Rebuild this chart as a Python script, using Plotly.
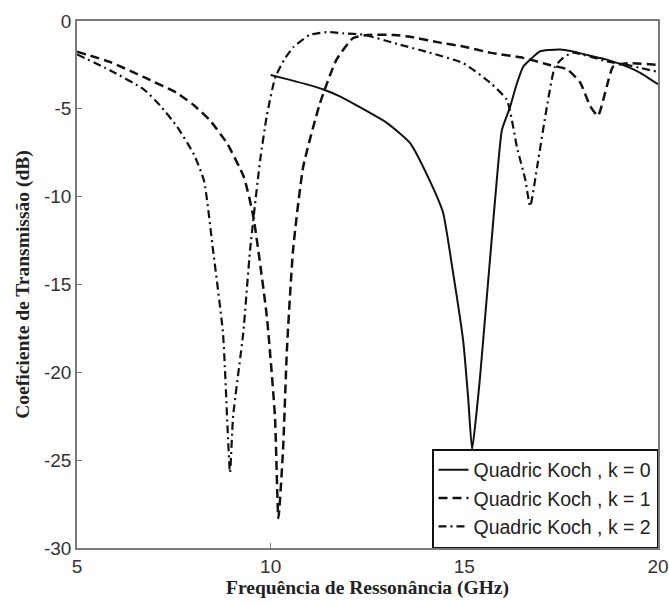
import plotly.graph_objects as go

# Frequency (GHz) and transmission coefficient (dB) for each fractal iteration
freq_k0 = [10.0, 10.5, 11.0, 11.36, 11.8, 12.3, 13.0, 13.6, 14.11, 14.45, 14.7, 14.97, 15.1, 15.2,
           15.3, 15.4, 15.55, 15.7, 15.84, 15.97, 16.18, 16.35, 16.52, 16.7, 16.95, 17.2, 17.47,
           17.8, 18.2, 18.68, 19.2, 19.54, 20.0]
s21_k0 = [-3.07, -3.35, -3.65, -3.9, -4.3, -4.9, -5.8, -6.95, -9.1, -10.9, -14.2, -18.2, -21.5, -24.4,
          -22.6, -20.4, -16.5, -12.6, -9.0, -6.2, -4.9, -3.6, -2.6, -2.2, -1.73, -1.65, -1.62,
          -1.73, -1.95, -2.2, -2.6, -2.95, -3.6]

freq_k1 = [5.0, 5.85, 6.73, 7.58, 8.02, 8.43, 8.87, 9.31, 9.55, 9.9, 10.11, 10.2, 10.32, 10.42,
           10.58, 10.84, 11.27, 11.7, 12.13, 12.5, 13.2, 13.6, 14.37, 14.97, 15.66, 16.52, 17.2,
           17.65, 17.99, 18.25, 18.45, 18.68, 18.84, 19.2, 20.0]
s21_k1 = [-1.75, -2.33, -3.2, -4.1, -4.8, -5.65, -6.95, -8.9, -11.1, -16.8, -22.5, -28.3, -24.4, -18.7,
          -13.0, -8.3, -4.7, -2.2, -0.97, -0.8, -0.8, -0.9, -1.23, -1.45, -1.8, -2.1, -2.5,
          -2.75, -3.5, -4.85, -5.4, -3.7, -2.6, -2.4, -2.5]

freq_k2 = [5.0, 5.85, 6.73, 7.14, 7.58, 8.02, 8.28, 8.51, 8.77, 8.95, 9.03, 9.29, 9.47, 9.73,
           9.9, 10.12, 10.35, 10.58, 11.0, 11.45, 11.87, 12.4, 13.26, 14.1, 14.97, 15.66, 16.1, 16.36,
           16.57, 16.7, 16.88, 17.13, 17.34, 17.55, 17.8, 18.68, 19.2, 20.0]
s21_k2 = [-1.9, -2.8, -3.9, -4.8, -6.0, -7.6, -9.1, -13.0, -17.8, -25.7, -22.5, -17.8, -13.0, -7.9,
          -5.4, -3.2, -2.2, -1.5, -0.8, -0.63, -0.7, -0.78, -1.3, -1.8, -2.4, -3.5, -4.5, -7.2,
          -9.0, -10.55, -8.3, -4.9, -2.6, -2.1, -1.8, -2.3, -2.5, -2.9]

series_names = ["Quadric Koch , k = 0", "Quadric Koch , k = 1", "Quadric Koch , k = 2"]

x_ticks = [5, 10, 15, 20]
y_ticks = [0, -5, -10, -15, -20, -25, -30]

line_color = "#111111"
fig = go.Figure()
fig.add_trace(go.Scatter(x=freq_k0, y=s21_k0, mode="lines", name=series_names[0],
                         line=dict(color=line_color, width=2, dash="solid",
                                   shape="spline", smoothing=0.5)))
fig.add_trace(go.Scatter(x=freq_k1, y=s21_k1, mode="lines", name=series_names[1],
                         line=dict(color=line_color, width=2.5, dash="9px,5px",
                                   shape="spline", smoothing=0.5)))
fig.add_trace(go.Scatter(x=freq_k2, y=s21_k2, mode="lines", name=series_names[2],
                         line=dict(color=line_color, width=2.2, dash="8px,4px,2px,4px",
                                   shape="spline", smoothing=0.5)))

axis_common = dict(
    showline=True, linecolor="#7a7a7a", linewidth=1.5, mirror=True,
    ticks="inside", ticklen=5, tickcolor="#7a7a7a",
    showgrid=False, zeroline=False, automargin=False,
    tickfont=dict(family="Liberation Sans, Arial", size=19, color="#333333"),
)

title_font = dict(family="Liberation Serif, Times New Roman", size=19.5,
                  color="#222222", weight="bold")

fig.update_xaxes(range=[5, 20], tickvals=x_ticks, ticktext=[str(v) for v in x_ticks],
                 title=dict(text="Frequência de Ressonância (GHz)", standoff=5, font=title_font),
                 **axis_common)
fig.update_yaxes(range=[-30, 0], tickvals=y_ticks, ticktext=[str(v) for v in y_ticks],
                 title=dict(text="Coeficiente de Transmissão (dB)", standoff=9, font=title_font),
                 **axis_common)

fig.update_layout(
    width=669, height=603,
    margin=dict(l=77, r=11, t=21, b=55),
    paper_bgcolor="white", plot_bgcolor="white",
    legend=dict(x=1, xanchor="right", y=0, yanchor="bottom",
                bordercolor="#111111", borderwidth=1.5, bgcolor="white",
                font=dict(family="Liberation Sans, Arial", size=19.5, color="#222222"),
                tracegroupgap=0, itemwidth=30),
)

fig.write_html("out.html")
